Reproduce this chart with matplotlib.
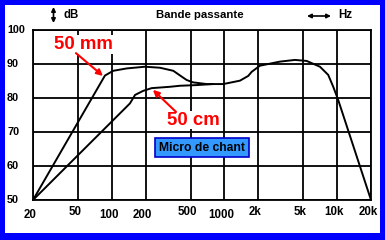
import matplotlib
matplotlib.use('Agg')
import matplotlib.pyplot as plt
from matplotlib.patches import Rectangle
from matplotlib.transforms import blended_transform_factory, ScaledTranslation

plt.rcParams['font.family'] = ['Liberation Sans', 'DejaVu Sans']

# grid / tick positions
x_ticks = [20, 50, 100, 200, 500, 1000, 2000, 5000, 10000, 20000]
x_labels = ['20', '50', '100', '200', '500', '1000', '2k', '5k', '10k', '20k']
y_ticks = [50, 60, 70, 80, 90, 100]
y_labels = ['50', '60', '70', '80', '90', '100']

# response at 50 mm
freq_mm = [20, 87, 103, 136, 197, 268, 352, 417, 462, 526, 695, 977, 1374,
           1628, 1746, 2066, 3110, 4227, 5370, 7046, 8340, 9245, 10236, 20000]
db_mm = [50, 86.6, 88.0, 88.7, 89.2, 88.9, 88.0, 86.3, 85.3, 84.6, 84.1, 84.1, 85.1,
         86.5, 87.7, 89.5, 90.7, 91.2, 90.9, 89.2, 86.8, 83.3, 79.4, 50]

# response at 50 cm (joins the 50 mm curve near 800 Hz)
freq_cm = [20, 145, 161, 190, 226, 329, 403, 568, 791]
db_cm = [50, 78.4, 80.9, 82.1, 82.9, 83.3, 83.6, 83.8, 84.1]

W, H = 385, 240
fig = plt.figure(figsize=(W / 100, H / 100), dpi=100)
fig.patch.set_facecolor('#0000ff')
fig.patches.append(Rectangle((5 / W, 7 / H), 375 / W, 228 / H,
                             transform=fig.transFigure, facecolor='white',
                             edgecolor='none', zorder=-10))

ax = fig.add_axes([33 / W, 1 - 200 / H, 338 / W, 170 / H])
ax.set_xscale('log')
ax.set_xlim(20, 20000)
ax.set_ylim(50, 100)
ax.set_facecolor('white')
for s in ax.spines.values():
    s.set_linewidth(1.3)
    s.set_color('black')
ax.set_xticks(x_ticks)
ax.set_yticks(y_ticks)
ax.xaxis.set_minor_locator(matplotlib.ticker.NullLocator())
ax.tick_params(length=0, labelbottom=False, labelleft=False)
ax.grid(True, color='black', linewidth=1.3)

ax.plot(freq_mm, db_mm, color='black', linewidth=1.4, zorder=3)
ax.plot(freq_cm, db_cm, color='black', linewidth=1.4, zorder=3)

# tick labels
ytr = blended_transform_factory(fig.transFigure, ax.transData)
for v, lab in zip(y_ticks, y_labels):
    ax.text(7 / W, v, lab, transform=ytr, ha='left', va='center',
            fontsize=7.8, fontweight='bold', clip_on=False)
low = {'20', '100', '200', '1000'}
xtr = blended_transform_factory(ax.transData, fig.transFigure) + \
    ScaledTranslation(-3 / 100, 0, fig.dpi_scale_trans)
for v, lab in zip(x_ticks, x_labels):
    yc = 215 if lab in low else 212
    ax.text(v, 1 - yc / H, lab, transform=xtr, ha='center', va='center',
            fontsize=8.3, fontweight='bold', clip_on=False)

# header
fig.text(71 / W, 1 - 15 / H, 'dB', ha='center', va='center', fontsize=8.3, fontweight='bold')
fig.text(200 / W, 1 - 15 / H, 'Bande passante', ha='center', va='center', fontsize=8.2, fontweight='bold')
fig.text(345 / W, 1 - 15 / H, 'Hz', ha='center', va='center', fontsize=8.3, fontweight='bold')
arr = dict(arrowstyle='<|-|>', color='black', lw=1.2, mutation_scale=6, shrinkA=0, shrinkB=0)
ax.annotate('', xy=(53.5 / W, 1 - 7 / H), xytext=(53.5 / W, 1 - 23 / H),
            xycoords='figure fraction', textcoords='figure fraction', arrowprops=arr)
ax.annotate('', xy=(307 / W, 1 - 16 / H), xytext=(331 / W, 1 - 16 / H),
            xycoords='figure fraction', textcoords='figure fraction', arrowprops=arr)

# annotations
red_arr = dict(arrowstyle='-|>', color='red', lw=1.5, mutation_scale=9, shrinkA=0, shrinkB=0)
ax.text(55.6, 95.7, '50 mm', color='red', fontsize=13.4, fontweight='bold',
        ha='center', va='center', zorder=4,
        bbox=dict(facecolor='white', edgecolor='none', pad=0.5))
ax.annotate('', xy=(83.6, 86.5), xytext=(48.1, 93.2), arrowprops=red_arr, zorder=5)
ax.text(526, 73.5, '50 cm', color='red', fontsize=13.4, fontweight='bold',
        ha='center', va='center', zorder=4,
        bbox=dict(facecolor='white', edgecolor='none', pad=0.5))
ax.annotate('', xy=(232, 82.4), xytext=(372, 75.9), arrowprops=red_arr, zorder=5)

ax.text(632, 65.4, 'Micro de chant', color='black', fontsize=8.7, fontweight='bold',
        ha='center', va='center', zorder=4,
        bbox=dict(boxstyle='square,pad=0.3', facecolor='#3399ff', edgecolor='#0000cc', linewidth=1.2))

fig.savefig('out.png', dpi=100, facecolor=fig.get_facecolor())
